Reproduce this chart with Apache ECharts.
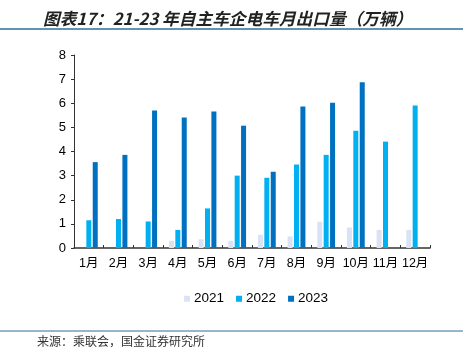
<!DOCTYPE html>
<html><head><meta charset="utf-8">
<script src="https://cdn.jsdelivr.net/npm/echarts@6/dist/echarts.min.js"></script>
<style>html,body{margin:0;padding:0;background:#fff}#c{width:463px;height:352px}</style>
</head><body><div id="c"></div>
<script>
const categories = ['1月','2月','3月','4月','5月','6月','7月','8月','9月','10月','11月','12月'];
const s2021 = [0, 0, 0, 0.30, 0.36, 0.30, 0.55, 0.48, 1.09, 0.85, 0.75, 0.75];
const s2022 = [1.15, 1.20, 1.10, 0.75, 1.64, 3.00, 2.91, 3.46, 3.86, 4.86, 4.41, 5.91];
const s2023 = [3.56, 3.86, 5.70, 5.41, 5.66, 5.07, 3.16, 5.87, 6.02, 6.87, null, null];
const seriesNames = ['2021','2022','2023'];
const yTicks = {min: 0, max: 8, interval: 1};

const chart = echarts.init(document.getElementById('c'));
const colors = ['#DAE3F3', '#00B0F0', '#0070C0'];
const font = 'Arial, "Liberation Sans", "Noto Sans CJK SC", sans-serif';
chart.setOption({
  animation: false,
  backgroundColor: '#fff',
  title: {
    text: '图表17：21-23 年自主车企电车月出口量（万辆）',
    left: 38, top: 5,
    textStyle: {fontSize: 16.7, fontWeight: 'bold', fontStyle: 'italic', color: '#222', fontFamily: '"Noto Sans CJK SC", sans-serif'}
  },
  graphic: [
    {type: 'line', shape: {x1: 0, y1: 29, x2: 463, y2: 29}, style: {stroke: '#2F6F98', lineWidth: 1.5}},
    {type: 'line', shape: {x1: 0, y1: 331, x2: 463, y2: 331}, style: {stroke: '#2F6F98', lineWidth: 1.2}},
    {type: 'text', left: 37, top: 335, style: {text: '来源：乘联会，国金证券研究所', fontSize: 12, fill: '#333', fontFamily: '"Noto Sans CJK SC", sans-serif'}}
  ],
  legend: {
    data: seriesNames, top: 287, left: 179,
    itemWidth: 6, itemHeight: 6, itemGap: 12,
    icon: 'rect',
    textStyle: {fontSize: 13.5, color: '#000', fontFamily: font, padding: [0,0,0,-1]}
  },
  grid: {left: 74, right: 33, top: 55, bottom: 104},
  xAxis: {
    type: 'category', data: categories,
    axisLine: {lineStyle: {color: '#333', width: 1.5}},
    axisTick: {show: true, inside: true, length: 3, lineStyle: {color: '#333'}},
    axisLabel: {fontSize: 12.5, color: '#000', margin: 9, fontFamily: font, interval: 0}
  },
  yAxis: {
    type: 'value', min: yTicks.min, max: yTicks.max, interval: yTicks.interval,
    splitLine: {show: false},
    axisLine: {show: true, lineStyle: {color: '#333', width: 1}},
    axisTick: {show: true, length: 3, lineStyle: {color: '#333'}},
    axisLabel: {fontSize: 13, color: '#000', margin: 8, fontFamily: font}
  },
  series: [
    {name: seriesNames[0], type: 'bar', data: s2021, barWidth: 5, barGap: '28%', itemStyle: {color: colors[0]}},
    {name: seriesNames[1], type: 'bar', data: s2022, barWidth: 5, barGap: '28%', itemStyle: {color: colors[1]}},
    {name: seriesNames[2], type: 'bar', data: s2023, barWidth: 5, barGap: '28%', itemStyle: {color: colors[2]}}
  ]
});
</script></body></html>
